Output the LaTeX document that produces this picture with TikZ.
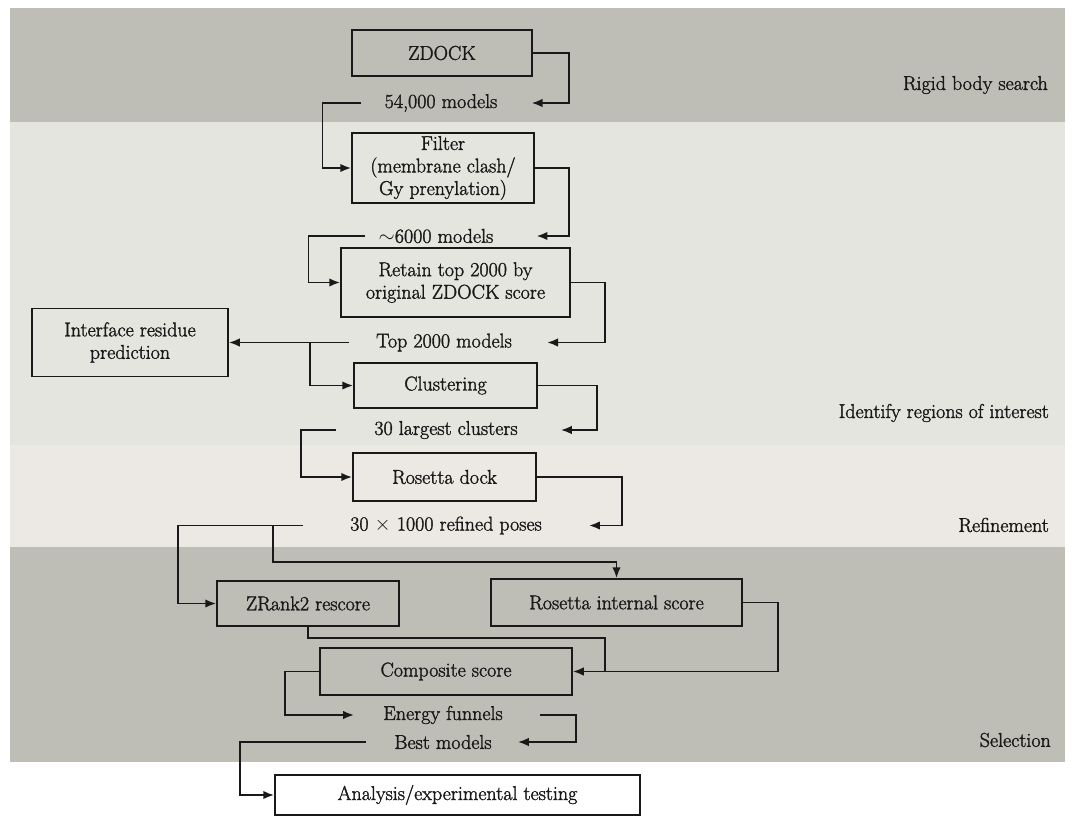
\documentclass[tikz,border=0pt]{standalone}
\usepackage{fontspec}
\setmainfont{Latin Modern Roman}[FakeBold=1.6]
\usetikzlibrary{arrows.meta,calc}
\definecolor{banddark}{RGB}{190,190,182}
\definecolor{bandlight}{RGB}{229,229,223}
\definecolor{bandrefine}{RGB}{236,233,228}
\definecolor{ink}{RGB}{25,25,25}
\begin{document}
\begin{tikzpicture}[x=1pt,y=-1pt,
  every node/.style={font=\fontsize{20}{22.5}\selectfont, text=ink},
  box/.style={draw=ink,line width=1.5pt,align=center,inner sep=2pt},
  lbl/.style={inner sep=0pt},
  conn/.style={draw=ink,line width=1.9pt},
  arr/.style={conn,-{Latex[length=11pt,width=8.5pt]}}]
\useasboundingbox (0,0) rectangle (1073,817);
% bands
\fill[white] (0,0) rectangle (1073,817);
\fill[banddark] (10,8) rectangle (1065,122);
\fill[bandlight] (10,122) rectangle (1065,445);
\fill[bandrefine] (10,445) rectangle (1065,547);
\fill[banddark] (10,547) rectangle (1065,762);
% band labels
\node[lbl,anchor=east] (lrigid) at (1048,85) {Rigid body search};
\node[lbl,anchor=east] (lident) at (1049,413) {Identify regions of interest};
\node[lbl,anchor=east] (lrefine) at (1049,525) {Refinement};
\node[lbl,anchor=east] (lselect) at (1051,740) {Selection};
% boxes
\node[box,minimum width=180,minimum height=46] (zdock) at (442,53) {ZDOCK};
\node[box,minimum width=182,minimum height=70] (filter) at (443,168) {Filter\\(membrane clash/\\Gy prenylation)};
\node[box,minimum width=229,minimum height=69] (retain) at (455.5,282.5) {Retain top 2000 by\\original ZDOCK score};
\node[box,minimum width=196,minimum height=68] (iface) at (130,342.5) {Interface residue\\prediction};
\node[box,minimum width=183,minimum height=45] (clust) at (445.5,385.5) {Clustering};
\node[box,minimum width=183,minimum height=48] (rdock) at (444.5,477) {Rosetta dock};
\node[box,minimum width=182,minimum height=45] (zrank) at (308,603.5) {ZRank2 rescore};
\node[box,minimum width=251,minimum height=47] (rint) at (616.5,602.5) {Rosetta internal score};
\node[box,minimum width=252,minimum height=47] (comp) at (446,671.5) {Composite score};
\node[box,fill=white,minimum width=365,minimum height=40] (anal) at (457.5,795) {Analysis/experimental testing};
% labels
\node[lbl] (m54) at (441,103) {54,000 models};
\node[lbl] (m6000) at (436,236) {$\sim$6000 models};
\node[lbl] (top2000) at (444,342.5) {Top 2000 models};
\node[lbl] (cl30) at (446,430) {30 largest clusters};
\node[lbl] (poses) at (446,525.5) {30 $\times$ 1000 refined poses};
\node[lbl] (funnels) at (443,715) {Energy funnels};
\node[lbl] (best) at (443,742) {Best models};
% junctions
\coordinate (br1) at (310,342.5);
\coordinate (br2) at (273,525.5);
\coordinate (jn) at (605,671.5);
% connectors
\draw[arr] (zdock.east) -- ++(36,0) |- ([xshift=34pt]m54.east);
\draw[arr] ([xshift=-24pt]m54.west) -- ++(-38,0) |- (filter.west);
\draw[arr] (filter.east) -- ++(34,0) |- ([xshift=43pt]m6000.east);
\draw[arr] ([xshift=-14pt]m6000.west) -- ++(-56,0) |- (retain.west);
\draw[arr] (retain.east) -- ++(34,0) |- ([xshift=35pt]top2000.east);
\draw[arr] ([xshift=-27pt]top2000.west) -- (iface.east);
\draw[arr] (br1) |- (clust.west);
\draw[arr] (clust.east) -- ++(59,0) |- ([xshift=43pt]cl30.east);
\draw[arr] ([xshift=-38pt]cl30.west) -- ++(-35,0) |- (rdock.west);
\draw[arr] (rdock.east) -- ++(85,0) |- ([xshift=47pt]poses.east);
\draw[arr] ([xshift=-47pt]poses.west) -- ++(-125,0) |- (zrank.west);
\draw[arr] (br2) |- ([yshift=16pt]rint.north) -- (rint.north);
\draw[conn] (zrank.south) -- ++(0,11) -| (jn);
\draw[arr] (rint.east) -- ++(35,0) |- (comp.east);
\draw[arr] (comp.west) -- ++(-34,0) |- ([xshift=-29pt]funnels.west);
\draw[arr] ([xshift=37pt]funnels.east) -- ++(36,0) |- ([xshift=26pt]best.east);
\draw[arr] ([xshift=-28pt]best.west) -- ++(-126,0) |- (anal.west);
\end{tikzpicture}
\end{document}
